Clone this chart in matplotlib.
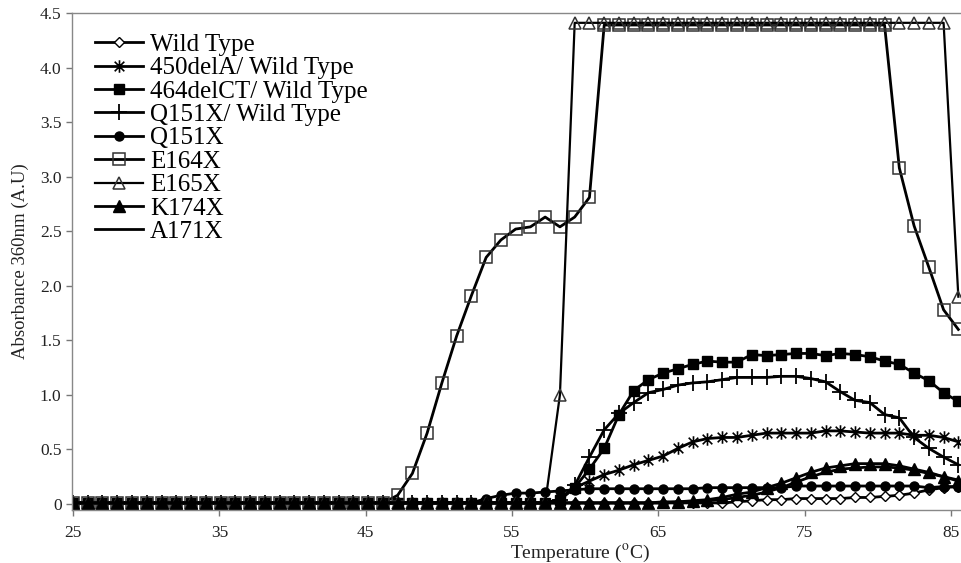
import numpy as np
import matplotlib.pyplot as plt
from matplotlib.path import Path

plt.rcParams['font.family'] = ['Liberation Serif', 'DejaVu Serif']
plt.rcParams['mathtext.fontset'] = 'stix'

# temperature steps (61 readings, 25 -> ~85.5 C)
temps = np.linspace(25, 85.5, 61)

wild_type = [0.01, 0.01, 0.01, 0.01, 0.01, 0.01, 0.01, 0.01, 0.01, 0.01,
             0.01, 0.01, 0.01, 0.01, 0.01, 0.01, 0.01, 0.01, 0.01, 0.01,
             0.01, 0.01, 0.01, 0.01, 0.01, 0.01, 0.01, 0.01, 0.01, 0.01,
             0.01, 0.01, 0.01, 0.01, 0.01, 0.01, 0.01, 0.01, 0.01, 0.01,
             0.01, 0.01, 0.01, 0.01, 0.01, 0.02, 0.03, 0.04, 0.04, 0.05,
             0.05, 0.05, 0.05, 0.06, 0.06, 0.07, 0.08, 0.10, 0.13, 0.15,
             0.16]
del450a = [0.01, 0.01, 0.01, 0.01, 0.01, 0.01, 0.01, 0.01, 0.01, 0.01,
           0.01, 0.01, 0.01, 0.01, 0.01, 0.01, 0.01, 0.01, 0.01, 0.01,
           0.01, 0.01, 0.01, 0.01, 0.01, 0.01, 0.01, 0.01, 0.01, 0.01,
           0.01, 0.01, 0.01, 0.04, 0.15, 0.21, 0.27, 0.31, 0.36, 0.40,
           0.44, 0.51, 0.57, 0.60, 0.61, 0.61, 0.63, 0.65, 0.65, 0.65,
           0.65, 0.67, 0.67, 0.66, 0.65, 0.65, 0.65, 0.63, 0.63, 0.61,
           0.57]
del464ct = [0.01, 0.01, 0.01, 0.01, 0.01, 0.01, 0.01, 0.01, 0.01, 0.01,
            0.01, 0.01, 0.01, 0.01, 0.01, 0.01, 0.01, 0.01, 0.01, 0.01,
            0.01, 0.01, 0.01, 0.01, 0.01, 0.01, 0.01, 0.01, 0.01, 0.01,
            0.01, 0.01, 0.01, 0.04, 0.15, 0.32, 0.51, 0.82, 1.04, 1.14,
            1.20, 1.24, 1.28, 1.31, 1.30, 1.30, 1.37, 1.36, 1.37, 1.38,
            1.38, 1.36, 1.38, 1.37, 1.35, 1.31, 1.28, 1.20, 1.13, 1.02,
            0.94]
q151x_wt = [0.01, 0.01, 0.01, 0.01, 0.01, 0.01, 0.01, 0.01, 0.01, 0.01,
            0.01, 0.01, 0.01, 0.01, 0.01, 0.01, 0.01, 0.01, 0.01, 0.01,
            0.01, 0.01, 0.01, 0.01, 0.01, 0.01, 0.01, 0.01, 0.01, 0.01,
            0.01, 0.01, 0.01, 0.04, 0.17, 0.43, 0.68, 0.83, 0.93, 1.02,
            1.05, 1.09, 1.11, 1.12, 1.14, 1.16, 1.16, 1.16, 1.17, 1.17,
            1.15, 1.12, 1.03, 0.95, 0.93, 0.82, 0.79, 0.61, 0.51, 0.43,
            0.36]
q151x = [0.01, 0.01, 0.01, 0.01, 0.01, 0.01, 0.01, 0.01, 0.01, 0.01,
         0.01, 0.01, 0.01, 0.01, 0.01, 0.01, 0.01, 0.01, 0.01, 0.01,
         0.01, 0.01, 0.01, 0.01, 0.01, 0.01, 0.01, 0.01, 0.05, 0.08,
         0.10, 0.10, 0.11, 0.12, 0.13, 0.14, 0.14, 0.14, 0.14, 0.14,
         0.14, 0.14, 0.14, 0.15, 0.15, 0.15, 0.15, 0.15, 0.15, 0.165,
         0.165, 0.165, 0.165, 0.165, 0.165, 0.165, 0.165, 0.165, 0.15, 0.16,
         0.16]
e164x = [0.01, 0.01, 0.01, 0.01, 0.01, 0.01, 0.01, 0.01, 0.01, 0.01,
         0.01, 0.01, 0.01, 0.01, 0.01, 0.01, 0.01, 0.01, 0.01, 0.01,
         0.01, 0.01, 0.08, 0.28, 0.65, 1.11, 1.54, 1.91, 2.26, 2.42,
         2.52, 2.54, 2.63, 2.54, 2.63, 2.81, 4.39, 4.39, 4.39, 4.39,
         4.39, 4.39, 4.39, 4.39, 4.39, 4.39, 4.39, 4.39, 4.39, 4.39,
         4.39, 4.39, 4.39, 4.39, 4.39, 4.39, 3.08, 2.55, 2.17, 1.78,
         1.60]
e165x = [0.01, 0.01, 0.01, 0.01, 0.01, 0.01, 0.01, 0.01, 0.01, 0.01,
         0.01, 0.01, 0.01, 0.01, 0.01, 0.01, 0.01, 0.01, 0.01, 0.01,
         0.01, 0.01, 0.01, 0.01, 0.01, 0.01, 0.01, 0.01, 0.01, 0.01,
         0.01, 0.01, 0.01, 1.00, 4.41, 4.41, 4.41, 4.41, 4.41, 4.41,
         4.41, 4.41, 4.41, 4.41, 4.41, 4.41, 4.41, 4.41, 4.41, 4.41,
         4.41, 4.41, 4.41, 4.41, 4.41, 4.41, 4.41, 4.41, 4.41, 4.41,
         1.90]
k174x = [0.01, 0.01, 0.01, 0.01, 0.01, 0.01, 0.01, 0.01, 0.01, 0.01,
         0.01, 0.01, 0.01, 0.01, 0.01, 0.01, 0.01, 0.01, 0.01, 0.01,
         0.01, 0.01, 0.01, 0.01, 0.01, 0.01, 0.01, 0.01, 0.01, 0.01,
         0.01, 0.01, 0.01, 0.01, 0.01, 0.01, 0.01, 0.01, 0.01, 0.01,
         0.02, 0.02, 0.03, 0.04, 0.06, 0.09, 0.11, 0.15, 0.19, 0.24,
         0.29, 0.33, 0.35, 0.37, 0.37, 0.37, 0.35, 0.32, 0.29, 0.25,
         0.21]
a171x = [0.01, 0.01, 0.01, 0.01, 0.01, 0.01, 0.01, 0.01, 0.01, 0.01,
         0.01, 0.01, 0.01, 0.01, 0.01, 0.01, 0.01, 0.01, 0.01, 0.01,
         0.01, 0.01, 0.01, 0.01, 0.01, 0.01, 0.01, 0.01, 0.01, 0.01,
         0.01, 0.01, 0.01, 0.01, 0.01, 0.01, 0.01, 0.01, 0.01, 0.01,
         0.01, 0.02, 0.02, 0.03, 0.04, 0.06, 0.08, 0.11, 0.15, 0.20,
         0.25, 0.29, 0.32, 0.33, 0.34, 0.34, 0.33, 0.31, 0.28, 0.25,
         0.22]

yticks = [0, 0.5, 1.0, 1.5, 2.0, 2.5, 3.0, 3.5, 4.0, 4.5]
ytick_labels = ['0', '0.5', '1.0', '1.5', '2.0', '2.5', '3.0', '3.5', '4.0', '4.5']
xticks = [25, 35, 45, 55, 65, 75, 85]

# asterisk marker: X with a vertical bar
asterisk = Path([(-1, -1), (1, 1), (-1, 1), (1, -1), (0, -1.3), (0, 1.3)],
                [Path.MOVETO, Path.LINETO, Path.MOVETO, Path.LINETO,
                 Path.MOVETO, Path.LINETO])

fig = plt.figure(figsize=(9.62, 5.63), dpi=100)
ax = fig.add_axes([0.0748, 0.0941, 0.9252, 0.8828])

lw = 2.0
ax.plot(temps, wild_type, color='k', lw=lw, marker='D', ms=5, mfc='white',
        mec='k', mew=1.0, label='Wild Type')
ax.plot(temps, del450a, color='k', lw=lw, marker=asterisk, ms=9, mec='k',
        mew=1.2, label='450delA/ Wild Type')
ax.plot(temps, del464ct, color='k', lw=lw, marker='s', ms=7, mfc='k',
        mec='k', label='464delCT/ Wild Type')
ax.plot(temps, q151x_wt, color='k', lw=lw, marker='+', ms=11, mec='k',
        mew=1.3, label='Q151X/ Wild Type')
ax.plot(temps, q151x, color='k', lw=lw, marker='o', ms=6.5, mfc='k',
        mec='k', label='Q151X')
ax.plot(temps, e164x, color='k', lw=lw, marker='s', ms=8, mfc='none',
        mec='#333333', mew=1.1, label='E164X')
ax.plot(temps, e165x, color='k', lw=1.6, marker='^', ms=9, mfc='none',
        mec='#333333', mew=1.1, label='E165X')
ax.plot(temps, k174x, color='k', lw=lw, marker='^', ms=8, mfc='k',
        mec='k', label='K174X')
ax.plot(temps, a171x, color='k', lw=lw, label='A171X')

ax.set_xlim(24.93, 85.75)
ax.set_ylim(-0.055, 4.5)
ax.set_xticks(xticks)
ax.set_yticks(yticks)
ax.set_yticklabels(ytick_labels)
ax.tick_params(axis='both', labelsize=12.5, color='#777777', length=4,
               width=1, labelcolor='#222222')
ax.tick_params(axis='x', pad=7)

for side in ['left', 'bottom', 'top']:
    ax.spines[side].set_color('#888888')
    ax.spines[side].set_linewidth(1.0)
ax.spines['right'].set_visible(False)

ax.set_xlabel(r'Temperature ($^{\mathrm{o}}$C)', fontsize=14, color='#222222')
ax.xaxis.set_label_coords(0.571, -0.065)
ax.set_ylabel('Absorbance 360nm (A.U)', fontsize=13.5, color='#222222')
ax.yaxis.set_label_coords(-0.048, 0.5)

ax.legend(loc='upper left', bbox_to_anchor=(0.026, 0.959), frameon=False,
          fontsize=18, handlelength=1.92, handletextpad=0.28,
          labelspacing=0.036, borderpad=0, borderaxespad=0)

fig.savefig('out.png', dpi=100)
